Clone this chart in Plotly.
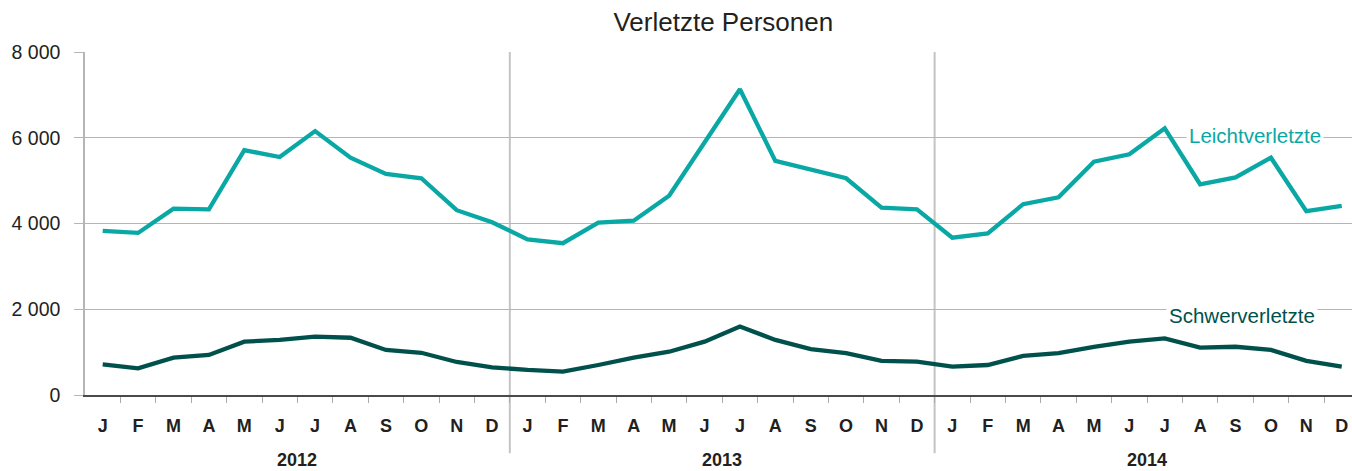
import plotly.graph_objects as go

months = ["J", "F", "M", "A", "M", "J", "J", "A", "S", "O", "N", "D"]
years = ["2012", "2013", "2014"]

leicht = [3830, 3780, 4345, 4330, 5710, 5550, 6155, 5535, 5155, 5055, 4310, 4030,
          3630, 3540, 4020, 4065, 4650, 5900, 7130, 5460, 5255, 5055, 4370, 4330,
          3670, 3770, 4450, 4610, 5440, 5615, 6220, 4915, 5075, 5535, 4290, 4410]
schwer = [715, 620, 870, 935, 1245, 1285, 1360, 1335, 1050, 985, 770, 645,
          585, 545, 700, 870, 1010, 1245, 1595, 1285, 1070, 975, 795, 780,
          660, 700, 910, 975, 1125, 1245, 1320, 1105, 1125, 1050, 795, 660]

y_ticks = [0, 2000, 4000, 6000, 8000]
y_ticktext = ["0", "2 000", "4 000", "6 000", "8 000"]

TEAL = "#0aa8a5"
DARK = "#00514c"
TXT = "#231f20"
FONT = "Liberation Sans, Arial, sans-serif"

x = list(range(len(leicht)))
month_labels = months * len(years)

fig = go.Figure()
fig.add_trace(go.Scatter(x=x, y=leicht, mode="lines", line=dict(color=TEAL, width=4.3),
                         showlegend=False, hoverinfo="skip"))
fig.add_trace(go.Scatter(x=x, y=schwer, mode="lines", line=dict(color=DARK, width=4.3),
                         showlegend=False, hoverinfo="skip"))

# year separators
for k in range(1, len(years)):
    xv = 12 * k - 0.5
    fig.add_shape(type="line", xref="x", yref="paper", x0=xv, x1=xv, y0=-0.17, y1=1,
                  line=dict(color="#c4c4c4", width=2), layer="below")

# year labels
for k, yr in enumerate(years):
    fig.add_annotation(x=12 * k + 5.5, y=-0.19, xref="x", yref="paper", text="<b>%s</b>" % yr,
                       showarrow=False, font=dict(family=FONT, size=18, color=TXT),
                       yanchor="middle")

# series labels
fig.add_annotation(x=32.56, y=6060, xref="x", yref="y", text="Leichtverletzte", showarrow=False,
                   font=dict(family=FONT, size=20.5, color=TEAL), bgcolor="white",
                   borderpad=2, yanchor="middle")
fig.add_annotation(x=32.19, y=1850, xref="x", yref="y", text="Schwerverletzte", showarrow=False,
                   font=dict(family=FONT, size=20.5, color=DARK), bgcolor="white",
                   borderpad=2, yanchor="middle")

fig.update_layout(
    width=1352, height=471,
    margin=dict(l=85, r=0, t=52, b=76, autoexpand=False),
    paper_bgcolor="white", plot_bgcolor="white",
    title=dict(text="Verletzte Personen", x=0.535, xanchor="center", y=0.953, yanchor="middle",
               font=dict(family=FONT, size=26, color=TXT)),
    font=dict(family=FONT, color=TXT),
    xaxis=dict(
        range=[-0.5, 35.29], tickmode="array", tickvals=x,
        ticktext=["<b>%s</b>" % m for m in month_labels],
        ticks="", showgrid=False, zeroline=False, automargin=False,
        showline=True, linecolor="#4a4a4a", linewidth=2,
        tickfont=dict(family=FONT, size=18, color=TXT),
        ticklabelstandoff=13,
        minor=dict(tickmode="array", tickvals=[i + 0.5 for i in x[:-1]], ticks="outside",
                   ticklen=6, tickcolor="#aaaaaa", tickwidth=1, showgrid=False),
        fixedrange=True,
    ),
    yaxis=dict(
        range=[0, 8000], tickmode="array", tickvals=y_ticks, ticktext=y_ticktext,
        showgrid=True, gridcolor="#b5b5b5", gridwidth=1, zeroline=False, automargin=False,
        showline=True, linecolor="#b5b5b5", linewidth=1.5,
        ticks="outside", ticklen=9, tickcolor="#b5b5b5",
        tickfont=dict(family=FONT, size=19.5, color=TXT),
        ticklabelstandoff=10,
        fixedrange=True,
    ),
)

fig.write_html("out.html", config={"displayModeBar": False},
               post_script="document.body.style.margin='0';document.body.style.overflow='hidden';")
